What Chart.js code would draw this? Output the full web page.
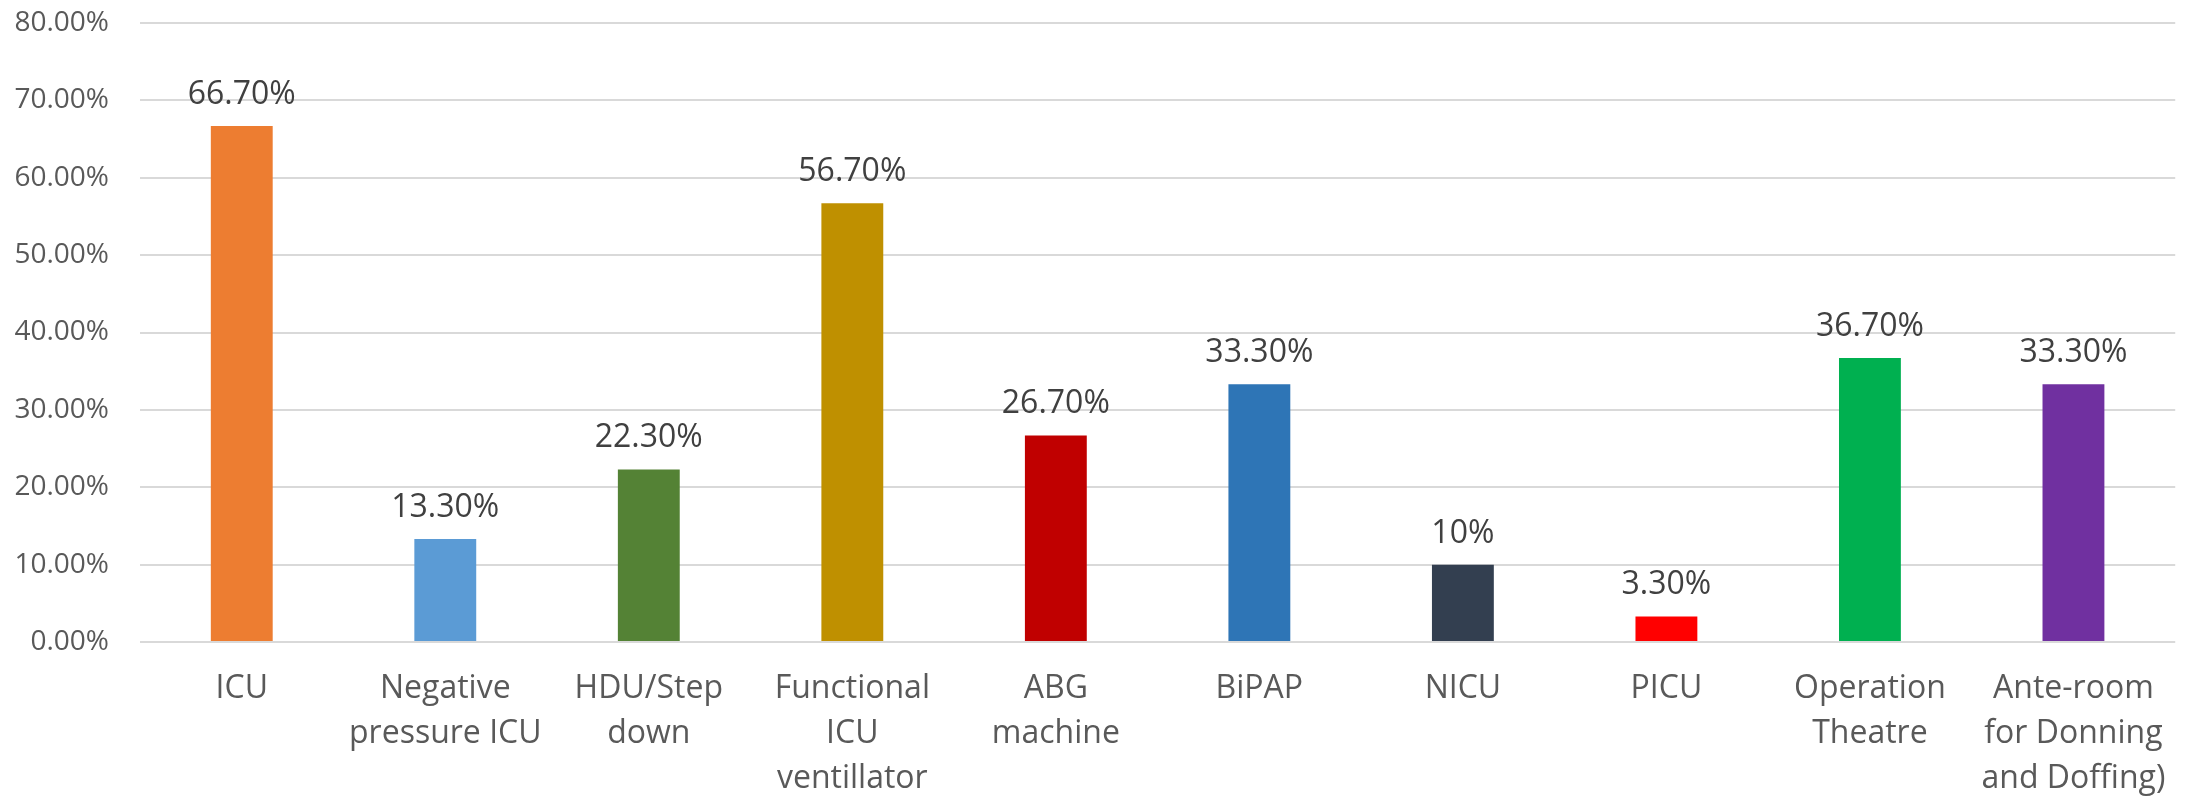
<!DOCTYPE html>
<html>
<head>
<meta charset="utf-8">
<script src="https://cdn.jsdelivr.net/npm/chart.js@4"></script>
<style>
  html, body { margin: 0; padding: 0; background: #fff; }
  #wrap { width: 2190px; height: 799px; }
</style>
</head>
<body>
<div id="wrap"><canvas id="chart" width="2190" height="799"></canvas></div>
<script>
// data
const categories = [
  "ICU",
  ["Negative", "pressure ICU"],
  ["HDU/Step", "down"],
  ["Functional", "ICU", "ventillator"],
  ["ABG", "machine"],
  "BiPAP",
  "NICU",
  "PICU",
  ["Operation", "Theatre"],
  ["Ante-room", "for Donning", "and Doffing)"]
];
const values = [66.7, 13.3, 22.3, 56.7, 26.7, 33.3, 10, 3.3, 36.7, 33.3];
const valueLabels = ["66.70%", "13.30%", "22.30%", "56.70%", "26.70%", "33.30%", "10%", "3.30%", "36.70%", "33.30%"];
const barColors = ["#ED7D31", "#5B9BD5", "#548235", "#BF9000", "#C00000", "#2E75B6", "#333F50", "#FF0000", "#00B050", "#7030A0"];

const FONT = "'Open Sans', 'Noto Sans', sans-serif";

// labels on top of the bars
const barLabels = {
  id: "barLabels",
  afterDatasetsDraw(chart) {
    const ctx = chart.ctx;
    const meta = chart.getDatasetMeta(0);
    ctx.save();
    ctx.font = "32px " + FONT;
    ctx.fillStyle = "#404040";
    ctx.textAlign = "center";
    ctx.textBaseline = "alphabetic";
    meta.data.forEach((bar, i) => {
      ctx.fillText(valueLabels[i], bar.x, bar.y - 22);
    });
    ctx.restore();
  }
};

new Chart(document.getElementById("chart").getContext("2d"), {
  type: "bar",
  data: {
    labels: categories,
    datasets: [{
      data: values,
      backgroundColor: barColors,
      borderWidth: 0,
      categoryPercentage: 1,
      barPercentage: 0.304
    }]
  },
  options: {
    responsive: false,
    animation: false,
    layout: { padding: { top: 23, right: 13, left: 0, bottom: 0 } },
    plugins: {
      legend: { display: false },
      tooltip: { enabled: false }
    },
    scales: {
      x: {
        grid: { display: false, drawTicks: false },
        border: { display: false },
        ticks: {
          color: "#595959",
          font: { family: FONT, size: 32, lineHeight: 1.41 },
          padding: 24,
          maxRotation: 0,
          autoSkip: false
        },
        afterFit(scale) { scale.height = 157; }
      },
      y: {
        min: 0,
        max: 80,
        grid: { color: "#D9D9D9", lineWidth: 2, drawTicks: false },
        border: { display: false },
        ticks: {
          stepSize: 10,
          color: "#595959",
          font: { family: FONT, size: 28 },
          padding: 31,
          callback: v => v.toFixed(2) + "%"
        },
        afterFit(scale) {
          scale.width = 140;
          // tick padding would otherwise push the plot down
          scale.paddingTop = 0;
          scale.paddingBottom = 0;
        }
      }
    }
  },
  plugins: [barLabels]
});
</script>
</body>
</html>
